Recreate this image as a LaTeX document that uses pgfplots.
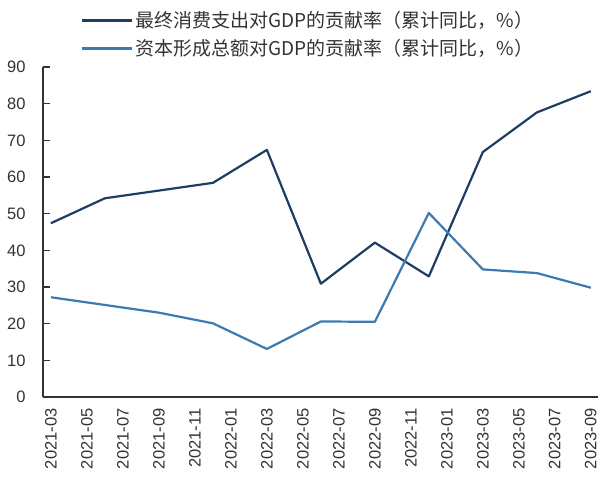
\documentclass[border=0pt]{standalone}
\usepackage{fontspec}
\setmainfont{Liberation Sans}
\newfontfamily\cjk{Noto Sans CJK SC}
\usepackage{pgfplots}
\pgfplotsset{compat=1.18}
\definecolor{navy}{HTML}{1E3D62}
\definecolor{steel}{HTML}{3D79B2}
\definecolor{txt}{HTML}{333333}
\begin{document}
\begin{tikzpicture}[x=1pt,y=1pt]
\path[use as bounding box] (-43,-81) rectangle (557,397);
\begin{axis}[
    at={(0,0)}, anchor=south west,
    scale only axis, width=555pt, height=330pt,
    xmin=-0.44, xmax=30.4, ymin=0, ymax=90,
    axis x line*=bottom, axis y line*=left,
    axis line style={draw=black!80, line width=1.2pt, -},
    xtick={0,2,...,30},
    xticklabels={2021-03,2021-05,2021-07,2021-09,2021-11,2022-01,2022-03,2022-05,2022-07,2022-09,2022-11,2023-01,2023-03,2023-05,2023-07,2023-09},
    xtick style={draw=none},
    ytick={0,10,...,90},
    ytick style={draw=black!80, line width=1.2pt},
    tick align=inside, major tick length=7pt,
    xticklabel style={rotate=90, anchor=east, font=\fontsize{16.5}{18}\selectfont, text=txt},
    xticklabel shift=8pt,
    yticklabel style={font=\fontsize{16.5}{18}\selectfont, text=txt, xshift=-14pt},
    /pgf/number format/assume math mode=true,
    legend style={at={(0.0685,1.175)}, anchor=north west, draw=none, fill=none,
        font=\cjk\fontsize{19}{21}\selectfont, text=txt, row sep=6.5pt,
        inner sep=0pt, cells={anchor=west}},
    legend image code/.code={\draw[#1, line width=2.5pt] (0pt,0pt) -- (50pt,0pt);},
    every axis plot/.append style={line width=2.2pt, line join=round, mark=none},
]
\addplot[navy] coordinates {
  (0,47.4) (3,54.2) (6,56.3) (9,58.4) (12,67.4) (15,30.9)
  (18,42.1) (21,32.9) (24,66.8) (27,77.6) (30,83.4)
};
\addplot[steel] coordinates {
  (0,27.2) (3,25.1) (6,23.0) (9,20.1) (12,13.1) (15,20.6)
  (18,20.5) (21,50.2) (24,34.8) (27,33.8) (30,29.8)
};
\legend{最终消费支出对GDP的贡献率（累计同比，\%）,资本形成总额对GDP的贡献率（累计同比，\%）}
\end{axis}
\end{tikzpicture}
\end{document}
